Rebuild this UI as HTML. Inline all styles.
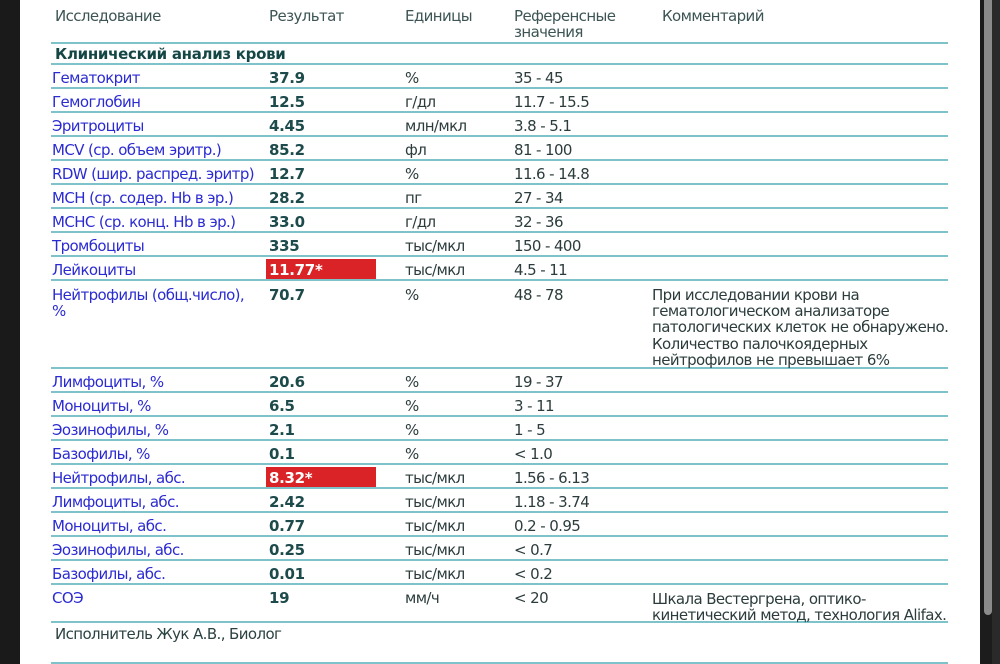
<!DOCTYPE html>
<html><head><meta charset="utf-8">
<style>
html,body{margin:0;padding:0;}
body{width:1000px;height:664px;position:relative;overflow:hidden;background:#fff;font-family:"DejaVu Sans","Liberation Sans","Noto Sans CJK SC",sans-serif;font-size:15px;letter-spacing:-0.6px;}
.t{position:absolute;white-space:nowrap;line-height:16px;}
.h{color:#3d5454;}
.n{color:#2b2bd2;}
.r{color:#1d4a4a;font-weight:bold;letter-spacing:-0.3px;}
.u{color:#2c3c3c;}
.c{color:#2c3c3c;line-height:16.2px;}
.ln{position:absolute;left:51px;width:897px;height:2px;background:#7fc3ca;}
.red{position:absolute;left:266px;width:110px;height:20px;background:#d92326;}
.rw{color:#fff;font-weight:bold;letter-spacing:-0.3px;}
</style></head><body>
<div style="position:absolute;left:0;top:0;width:20px;height:664px;background:#1a1a1a;"></div>
<div style="position:absolute;left:980px;top:0;width:20px;height:664px;background:#1c1c1c;"></div>
<div style="position:absolute;left:992px;top:0;width:8px;height:664px;background:#2a2a2a;"></div>
<div style="position:absolute;left:984px;top:0;width:8px;height:615px;background:#8b8b8b;border-radius:0 0 4px 4px;"></div>

<!-- header -->
<div class="t h" style="left:55px;top:8px;">Исследование</div>
<div class="t h" style="left:269px;top:8px;">Результат</div>
<div class="t h" style="left:405px;top:8px;">Единицы</div>
<div class="t h" style="left:514px;top:8px;">Референсные<br>значения</div>
<div class="t h" style="left:662px;top:8px;">Комментарий</div>

<div class="ln" style="top:42px"></div>
<div class="t r" style="left:55px;top:46px;color:#154646;">Клинический анализ крови</div>
<div class="ln" style="top:63px"></div>
<div class="ln" style="top:87px"></div>
<div class="ln" style="top:111px"></div>
<div class="ln" style="top:135px"></div>
<div class="ln" style="top:159px"></div>
<div class="ln" style="top:183px"></div>
<div class="ln" style="top:207px"></div>
<div class="ln" style="top:231px"></div>
<div class="ln" style="top:255px"></div>
<div class="ln" style="top:279px"></div>
<div class="ln" style="top:367px"></div>
<div class="ln" style="top:391px"></div>
<div class="ln" style="top:415px"></div>
<div class="ln" style="top:439px"></div>
<div class="ln" style="top:463px"></div>
<div class="ln" style="top:487px"></div>
<div class="ln" style="top:511px"></div>
<div class="ln" style="top:535px"></div>
<div class="ln" style="top:559px"></div>
<div class="ln" style="top:583px"></div>
<div class="ln" style="top:621px"></div>
<div class="ln" style="top:662px"></div>

<div class="red" style="top:259px"></div>
<div class="red" style="top:467px"></div>

<!-- rows -->
<div class="t n" style="left:52px;top:70px;">Гематокрит</div><div class="t r" style="left:269px;top:70px;">37.9</div><div class="t u" style="left:405px;top:70px;">%</div><div class="t u" style="left:514px;top:70px;">35 - 45</div>
<div class="t n" style="left:52px;top:94px;">Гемоглобин</div><div class="t r" style="left:269px;top:94px;">12.5</div><div class="t u" style="left:405px;top:94px;">г/дл</div><div class="t u" style="left:514px;top:94px;">11.7 - 15.5</div>
<div class="t n" style="left:52px;top:118px;">Эритроциты</div><div class="t r" style="left:269px;top:118px;">4.45</div><div class="t u" style="left:405px;top:118px;">млн/мкл</div><div class="t u" style="left:514px;top:118px;">3.8 - 5.1</div>
<div class="t n" style="left:52px;top:142px;">MCV (ср. объем эритр.)</div><div class="t r" style="left:269px;top:142px;">85.2</div><div class="t u" style="left:405px;top:142px;">фл</div><div class="t u" style="left:514px;top:142px;">81 - 100</div>
<div class="t n" style="left:52px;top:166px;">RDW (шир. распред. эритр)</div><div class="t r" style="left:269px;top:166px;">12.7</div><div class="t u" style="left:405px;top:166px;">%</div><div class="t u" style="left:514px;top:166px;">11.6 - 14.8</div>
<div class="t n" style="left:52px;top:190px;">MCH (ср. содер. Hb в эр.)</div><div class="t r" style="left:269px;top:190px;">28.2</div><div class="t u" style="left:405px;top:190px;">пг</div><div class="t u" style="left:514px;top:190px;">27 - 34</div>
<div class="t n" style="left:52px;top:214px;">MCHC (ср. конц. Hb в эр.)</div><div class="t r" style="left:269px;top:214px;">33.0</div><div class="t u" style="left:405px;top:214px;">г/дл</div><div class="t u" style="left:514px;top:214px;">32 - 36</div>
<div class="t n" style="left:52px;top:238px;">Тромбоциты</div><div class="t r" style="left:269px;top:238px;">335</div><div class="t u" style="left:405px;top:238px;">тыс/мкл</div><div class="t u" style="left:514px;top:238px;">150 - 400</div>
<div class="t n" style="left:52px;top:262px;">Лейкоциты</div><div class="t rw" style="left:269px;top:262px;">11.77*</div><div class="t u" style="left:405px;top:262px;">тыс/мкл</div><div class="t u" style="left:514px;top:262px;">4.5 - 11</div>
<div class="t n" style="left:52px;top:287px;">Нейтрофилы (общ.число),<br>%</div><div class="t r" style="left:269px;top:287px;">70.7</div><div class="t u" style="left:405px;top:287px;">%</div><div class="t u" style="left:514px;top:287px;">48 - 78</div>
<div class="t c" style="left:652px;top:287px;">При исследовании крови на<br>гематологическом анализаторе<br>патологических клеток не обнаружено.<br>Количество палочкоядерных<br>нейтрофилов не превышает 6%</div>
<div class="t n" style="left:52px;top:374px;">Лимфоциты, %</div><div class="t r" style="left:269px;top:374px;">20.6</div><div class="t u" style="left:405px;top:374px;">%</div><div class="t u" style="left:514px;top:374px;">19 - 37</div>
<div class="t n" style="left:52px;top:398px;">Моноциты, %</div><div class="t r" style="left:269px;top:398px;">6.5</div><div class="t u" style="left:405px;top:398px;">%</div><div class="t u" style="left:514px;top:398px;">3 - 11</div>
<div class="t n" style="left:52px;top:422px;">Эозинофилы, %</div><div class="t r" style="left:269px;top:422px;">2.1</div><div class="t u" style="left:405px;top:422px;">%</div><div class="t u" style="left:514px;top:422px;">1 - 5</div>
<div class="t n" style="left:52px;top:446px;">Базофилы, %</div><div class="t r" style="left:269px;top:446px;">0.1</div><div class="t u" style="left:405px;top:446px;">%</div><div class="t u" style="left:514px;top:446px;">&lt; 1.0</div>
<div class="t n" style="left:52px;top:470px;">Нейтрофилы, абс.</div><div class="t rw" style="left:269px;top:470px;">8.32*</div><div class="t u" style="left:405px;top:470px;">тыс/мкл</div><div class="t u" style="left:514px;top:470px;">1.56 - 6.13</div>
<div class="t n" style="left:52px;top:494px;">Лимфоциты, абс.</div><div class="t r" style="left:269px;top:494px;">2.42</div><div class="t u" style="left:405px;top:494px;">тыс/мкл</div><div class="t u" style="left:514px;top:494px;">1.18 - 3.74</div>
<div class="t n" style="left:52px;top:518px;">Моноциты, абс.</div><div class="t r" style="left:269px;top:518px;">0.77</div><div class="t u" style="left:405px;top:518px;">тыс/мкл</div><div class="t u" style="left:514px;top:518px;">0.2 - 0.95</div>
<div class="t n" style="left:52px;top:542px;">Эозинофилы, абс.</div><div class="t r" style="left:269px;top:542px;">0.25</div><div class="t u" style="left:405px;top:542px;">тыс/мкл</div><div class="t u" style="left:514px;top:542px;">&lt; 0.7</div>
<div class="t n" style="left:52px;top:566px;">Базофилы, абс.</div><div class="t r" style="left:269px;top:566px;">0.01</div><div class="t u" style="left:405px;top:566px;">тыс/мкл</div><div class="t u" style="left:514px;top:566px;">&lt; 0.2</div>
<div class="t n" style="left:52px;top:590px;">СОЭ</div><div class="t r" style="left:269px;top:590px;">19</div><div class="t u" style="left:405px;top:590px;">мм/ч</div><div class="t u" style="left:514px;top:590px;">&lt; 20</div>
<div class="t c" style="left:652px;top:591px;">Шкала Вестергрена, оптико-<br>кинетический метод, технология Alifax.</div>

<div class="t h" style="left:55px;top:626px;color:#2c4242;">Исполнитель Жук А.В., Биолог</div>
</body></html>
